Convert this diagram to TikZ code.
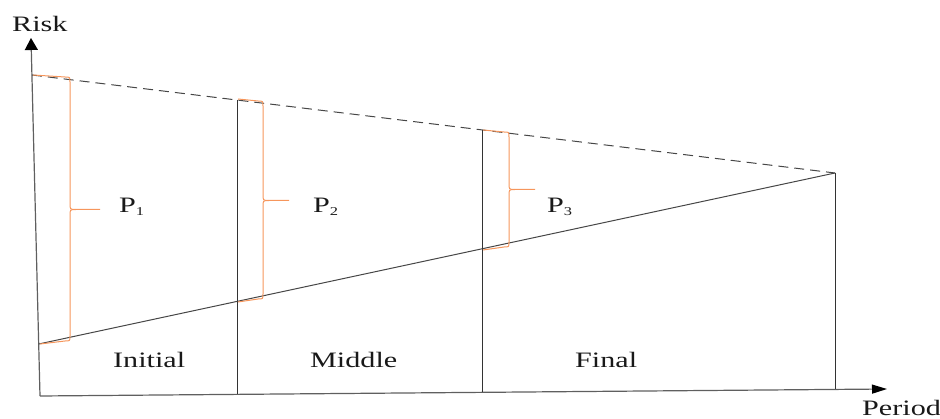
\documentclass[tikz,border=0pt]{standalone}
\usepackage{fontspec}
\setmainfont{Liberation Serif}
\usetikzlibrary{arrows.meta}
\definecolor{braceor}{RGB}{246,150,92}
\definecolor{axisgray}{RGB}{95,95,95}
\definecolor{linegray}{RGB}{70,70,70}
\newcommand\stretchtxt[1]{\scalebox{1.37}[1]{#1}}
\newcommand\plabel[1]{\stretchtxt{P\raisebox{-2.5pt}{\fontsize{12}{12}\selectfont #1}}}
\begin{document}
\begin{tikzpicture}[x=1pt,y=-1pt,
  lbl/.style={inner sep=0pt, anchor=base west, font=\fontsize{22}{24}\selectfont, text=black!90},
  axisline/.style={draw=axisgray, line width=1.2pt},
  dashline/.style={draw=linegray, line width=1pt, dash pattern=on 10pt off 6pt},
  diagline/.style={draw=linegray, line width=1pt},
  vline/.style={draw=black!80, line width=1pt},
  bracepath/.style={draw=braceor, line width=1pt, line join=round}]
\useasboundingbox (0,0) rectangle (940,419);
% coordinates
\coordinate (O) at (40,396);
\coordinate (Ytip) at (31,38);
\coordinate (Xtip) at (887,389);
\coordinate (D0) at (31.9,75);
\coordinate (E) at (835,173);
\coordinate (S0) at (38.7,344);
\coordinate (D1) at (237,100);
\coordinate (B1) at (237,394.4);
\coordinate (D2) at (482,130);
\coordinate (B2) at (482,392.3);
\coordinate (B3) at (835,389.4);
% axes
\draw[axisline, -{Triangle[length=12pt,width=13pt,color=black]}] (O) -- (Ytip);
\draw[axisline, -{Triangle[length=15pt,width=9pt,color=black]}] (O) -- (Xtip);
% lines
\draw[dashline] (D0) -- (E);
\draw[diagline] (S0) -- (E);
\draw[vline] (D1) -- (B1);
\draw[vline] (D2) -- (B2);
\draw[vline] (E) -- (B3);
% braces
\draw[bracepath] (33,75) -- (65,77) .. controls (70,77) .. (70,82) -- (70,203.5)
  .. controls (70,209.5) .. (76,209.5) -- (100,209.5);
\draw[bracepath] (76,209.5) .. controls (70,209.5) .. (70,215.5) -- (70,336)
  .. controls (70,341) .. (65,341) -- (40,344);
\draw[bracepath] (238,99) -- (258,101) .. controls (263,101) .. (263,106) -- (263,194.5)
  .. controls (263,200.5) .. (269,200.5) -- (289,200.5);
\draw[bracepath] (269,200.5) .. controls (263,200.5) .. (263,206.5) -- (263,294)
  .. controls (263,299) .. (258,299) -- (238,302);
\draw[bracepath] (483,130) -- (504,132) .. controls (509,132) .. (509,137) -- (509,183.5)
  .. controls (509,189.5) .. (515,189.5) -- (535,189.5);
\draw[bracepath] (515,189.5) .. controls (509,189.5) .. (509,195.5) -- (509,242)
  .. controls (509,247) .. (504,247) -- (483,250);
% labels
\node[lbl] (risk) at (12,32) {\stretchtxt{Risk}};
\node[lbl] (period) at (862,416) {\stretchtxt{Period}};
\node[lbl] (initial) at (113,368) {\stretchtxt{Initial}};
\node[lbl] (middle) at (310,368) {\stretchtxt{Middle}};
\node[lbl] (final) at (575,368) {\stretchtxt{Final}};
\node[lbl] (p1) at (119,213) {\plabel{1}};
\node[lbl] (p2) at (313,213) {\plabel{2}};
\node[lbl] (p3) at (547,213) {\plabel{3}};
\end{tikzpicture}
\end{document}
